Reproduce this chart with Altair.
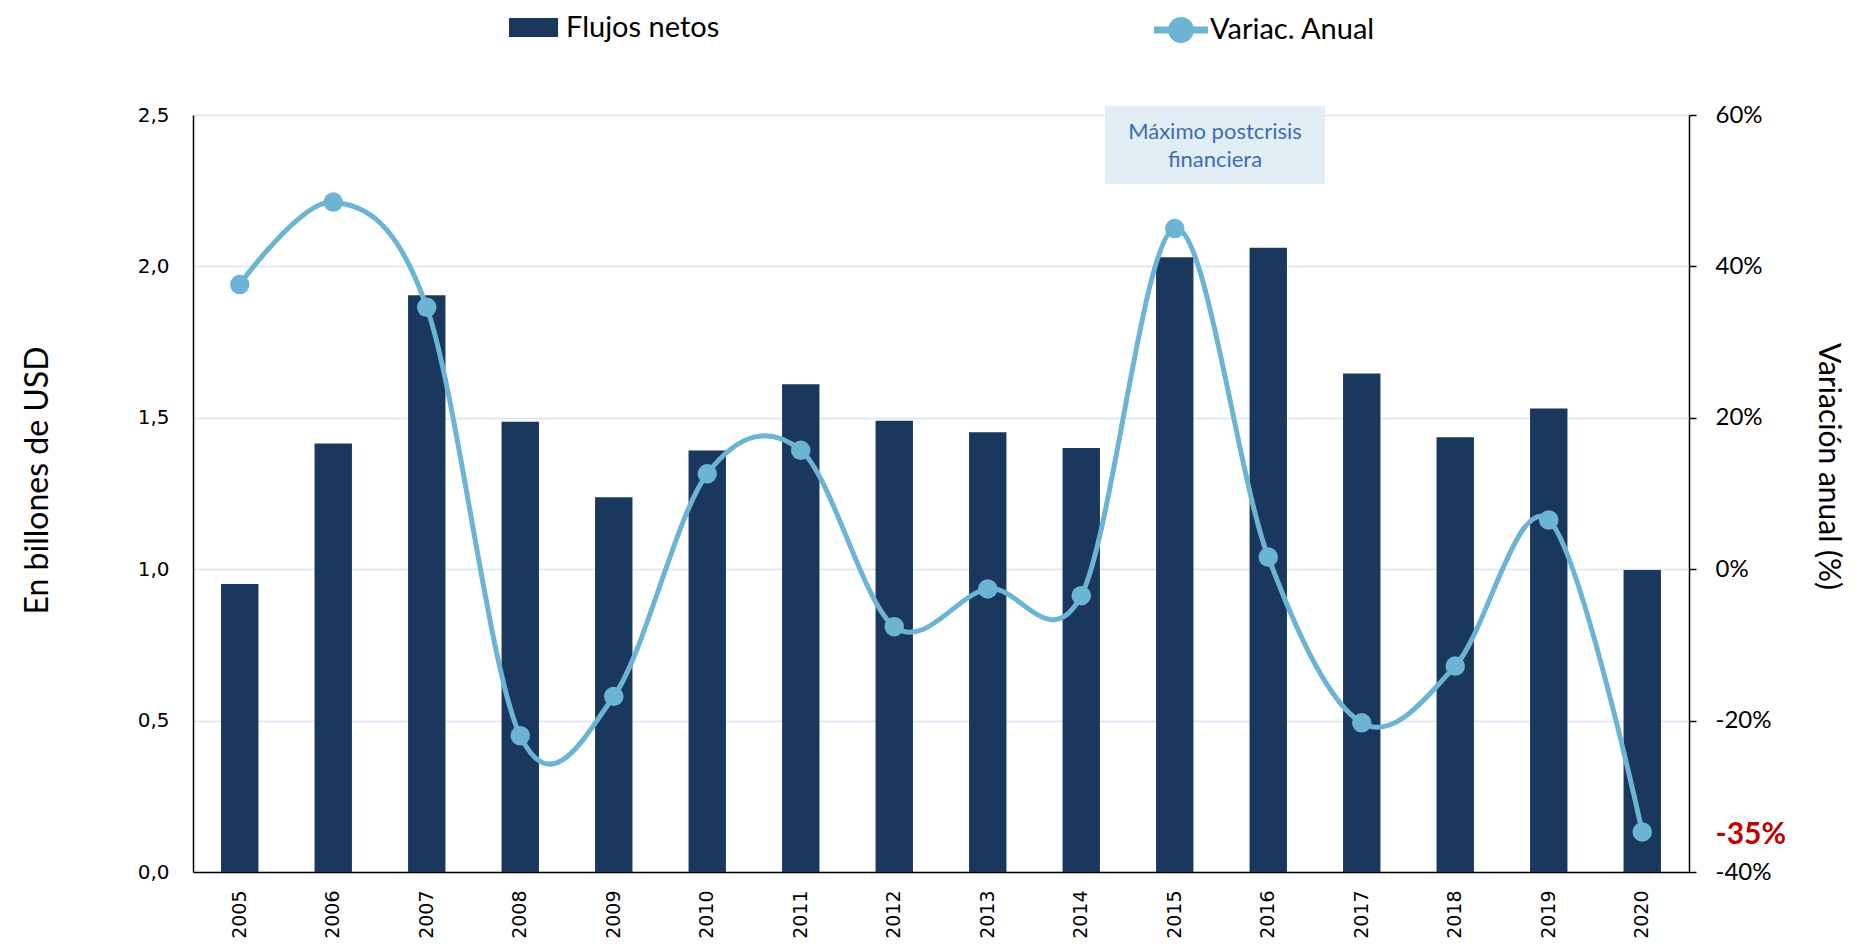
import altair as alt
import pandas as pd

years = [str(y) for y in range(2005, 2021)]
flujos = [0.951, 1.415, 1.905, 1.487, 1.238, 1.392, 1.611, 1.490, 1.452, 1.400,
          2.030, 2.062, 1.646, 1.436, 1.531, 0.997]
variacion = [0.376, 0.485, 0.346, -0.220, -0.168, 0.126, 0.157, -0.076, -0.026, -0.035,
             0.450, 0.016, -0.203, -0.128, 0.065, -0.347]
left_ticks = [0.0, 0.5, 1.0, 1.5, 2.0, 2.5]
right_ticks = [-0.4, -0.35, -0.2, 0.0, 0.2, 0.4, 0.6]
serie_bar = "Flujos netos"
serie_line = "Variac. Anual"
annot_lines = ["Máximo postcrisis", "financiera"]

BAR = "#1a375e"
LINE = "#6cb4d3"
GRID = "#d6e4f4"
RED = "#c00000"

df = pd.DataFrame({"year": years, "flujos": flujos, "var": variacion})
df["s1"] = serie_bar
df["s2"] = serie_line

base = alt.Chart(df)

X = alt.X(
    "year:N", sort=years,
    scale=alt.Scale(paddingInner=0.6, paddingOuter=0.3),
    axis=alt.Axis(title=None, labelAngle=270, labelFont="DejaVu Sans", labelFontSize=19,
                  labelColor="black", labelPadding=18, ticks=False, grid=False,
                  domainColor="black", domainWidth=1.5),
)

bar_path = "M-1,-0.39H1V0.39H-1Z"
line_path = ("M-1,-0.13H1V0.13H-1Z "
             "M0.48,0A0.48,0.48,0,1,1,-0.48,0A0.48,0.48,0,1,1,0.48,0Z")

bars = base.mark_bar().encode(
    x=X,
    y=alt.Y("flujos:Q",
            scale=alt.Scale(domain=[0, 2.5], nice=False),
            axis=alt.Axis(orient="left", values=left_ticks, title="En billones de USD",
                          labelExpr="replace(format(datum.value, '.1f'), '.', ',')",
                          labelFont="DejaVu Sans", labelFontSize=20, labelColor="black",
                          labelPadding=24, ticks=False, grid=True, gridColor=GRID,
                          gridWidth=1.5, domainColor="black", domainWidth=1.5,
                          titleFont="Lato", titleFontSize=32, titleFontWeight="normal",
                          titleColor="black", titleX=-156, titleY=365,
                          titleBaseline="middle", titleAlign="center")),
    color=alt.Color("s1:N", scale=alt.Scale(domain=[serie_bar], range=[BAR]),
                    legend=alt.Legend(title=None, orient="none", legendX=316, legendY=-112,
                                      direction="horizontal", labelFont="Lato",
                                      labelFontSize=29, labelColor="black", labelLimit=500,
                                      symbolType=bar_path, symbolSize=2401,
                                      symbolStrokeWidth=0, labelOffset=8, padding=0)),
)

Yr = alt.Y("var:Q",
           scale=alt.Scale(domain=[-0.4, 0.6], nice=False, zero=False),
           axis=alt.Axis(orient="right", values=right_ticks, title="Variación anual (%)",
                         labelExpr="replace(format(datum.value, '.0%'), '\u2212', '-')",
                         labelFont="Lato", labelOverlap=False,
                         labelFontSize={"condition": {"test": "abs(datum.value + 0.35) < 0.001", "value": 30}, "value": 24},
                         labelFontWeight={"condition": {"test": "abs(datum.value + 0.35) < 0.001", "value": "bold"}, "value": "normal"},
                         labelColor={"condition": {"test": "abs(datum.value + 0.35) < 0.001", "value": RED}, "value": "black"},
                         tickColor={"condition": {"test": "abs(datum.value + 0.35) < 0.001", "value": "transparent"}, "value": "black"},
                         tickSize=7, tickWidth=1.5, labelPadding=19, grid=False,
                         domainColor="black", domainWidth=1.5,
                         titleFont="Lato", titleFontSize=30, titleFontWeight="normal",
                         titleColor="black", titleX=138, titleY=351,
                         titleBaseline="middle", titleAlign="center"))

line = base.mark_line(color=LINE, strokeWidth=5, interpolate="cardinal").encode(x=X, y=Yr)
pts = base.mark_circle(size=380, opacity=1).encode(
    x=X, y=Yr,
    color=alt.Color("s2:N", scale=alt.Scale(domain=[serie_line], range=[LINE]),
                    legend=alt.Legend(title=None, orient="none", legendX=961, legendY=-112,
                                      direction="horizontal", labelFont="Lato",
                                      labelFontSize=29, labelColor="black", labelLimit=500,
                                      symbolType=line_path, symbolSize=2916,
                                      symbolStrokeWidth=0, labelOffset=2, padding=0)),
)
right = alt.layer(line, pts)

annot_df = pd.DataFrame({"k": [1]})
rect = alt.Chart(annot_df).mark_rect(color="#e2eef5").encode(
    x=alt.value(912), x2=alt.value(1132), y=alt.value(-9), y2=alt.value(69))
text = alt.Chart(annot_df).mark_text(font="Lato", fontSize=22, color="#3d6cb5",
                                     lineHeight=28, baseline="middle", align="center").encode(
    x=alt.value(1022), y=alt.value(17), text=alt.value(annot_lines))

chart = alt.layer(bars, right, rect, text).resolve_scale(
    y="independent", color="independent"
).properties(
    width=1496, height=757,
    autosize=alt.AutoSizeParams(type="none"),
    padding={"left": 185, "top": 107, "right": 161, "bottom": 68},
).configure_view(strokeWidth=0)

chart.save("out.html", embed_options={"renderer": "svg", "actions": False})
